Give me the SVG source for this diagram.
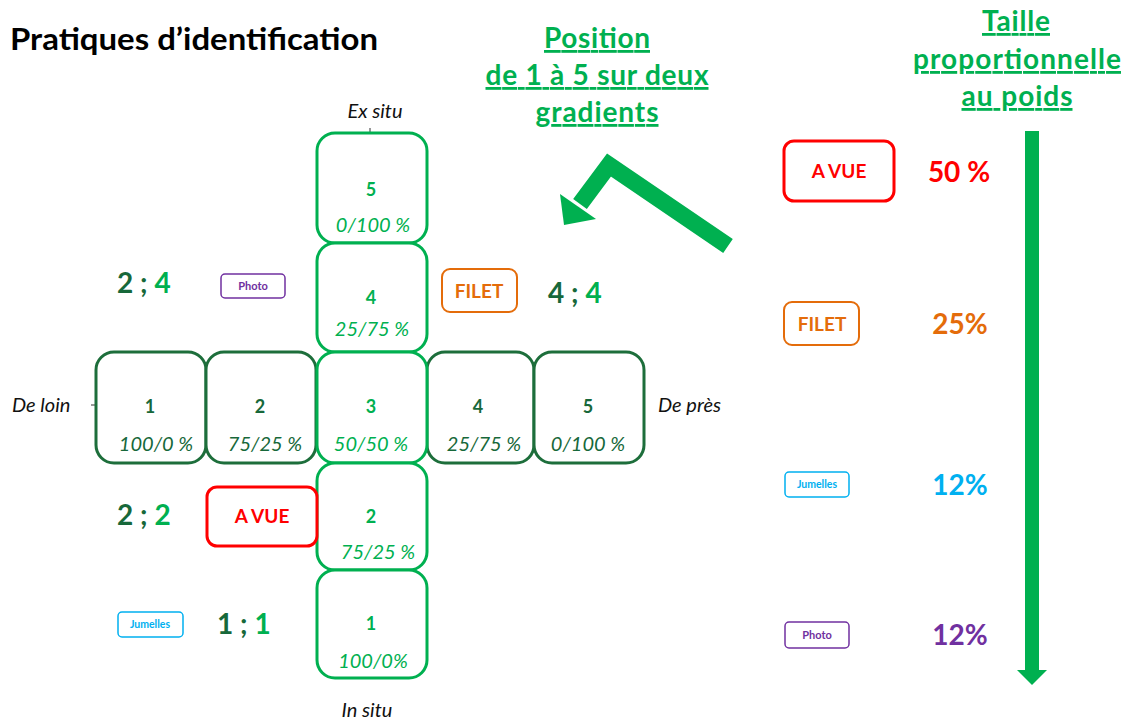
<svg xmlns="http://www.w3.org/2000/svg" width="1129" height="720" viewBox="0 0 1129 720">
<style>
text{font-family:Lato,"Open Sans","Liberation Sans",sans-serif}
.bl{fill:#fff;stroke:#00b050;stroke-width:3}
.bd{fill:#fff;stroke:#1d6e3b;stroke-width:3}
.num{font-weight:bold;font-size:18px;text-anchor:middle}
.pct{font-style:italic;font-size:20px;text-anchor:middle}
.gl{fill:#00b050}
.gd{fill:#17683a}
.axis{font-style:italic;font-size:20px;fill:#111}
.hd{font-weight:bold;font-size:28px;fill:#00b050;text-anchor:middle;text-decoration:underline}
.coord{font-weight:bold;font-size:28px}
.tag{font-weight:bold;text-anchor:middle}
.big{font-weight:bold;font-size:28px;text-anchor:middle}
</style>
<rect width="1129" height="720" fill="#fff"/>
<text x="10" y="50" font-size="30" font-weight="bold" fill="#000" textLength="368" lengthAdjust="spacingAndGlyphs">Pratiques d’identification</text>
<text class="hd" x="597" y="48" textLength="106" lengthAdjust="spacing">Position</text>
<text class="hd" x="597" y="85" textLength="223" lengthAdjust="spacing">de 1 à 5 sur deux</text>
<text class="hd" x="597" y="122" textLength="123" lengthAdjust="spacing">gradients</text>
<text class="hd" x="1016" y="31" textLength="68" lengthAdjust="spacing">Taille</text>
<text class="hd" x="1017" y="69" textLength="208" lengthAdjust="spacing">proportionnelle</text>
<text class="hd" x="1017" y="106" textLength="111" lengthAdjust="spacing">au poids</text>
<text class="axis" x="375" y="118" text-anchor="middle">Ex situ</text>
<text class="axis" x="367" y="717" text-anchor="middle">In situ</text>
<text class="axis" x="12" y="412">De loin</text>
<text class="axis" x="658" y="412">De près</text>
<g id="connectors">
<line x1="370" y1="128" x2="370" y2="133" stroke="#333" stroke-width="1"/>
<line x1="91" y1="405" x2="96" y2="405" stroke="#333" stroke-width="1"/>
<polyline points="728,246 609,165 580,204" fill="none" stroke="#00b050" stroke-width="17" stroke-linejoin="miter"/>
<polygon points="560,194 596,219 564,225" fill="#00b050"/>
<rect x="1025" y="131" width="14" height="540" fill="#00b050"/>
<polygon points="1017,670 1047,670 1032,685" fill="#00b050"/>
</g>
<g id="h1"><rect class="bd" x="96" y="352" width="110" height="111" rx="18"/><text class="num gd" x="150" y="413">1</text><text class="pct gd" x="156" y="451">100/0 %</text></g>
<g id="h2"><rect class="bd" x="206" y="352" width="110" height="111" rx="18"/><text class="num gd" x="260" y="413">2</text><text class="pct gd" x="265" y="451">75/25 %</text></g>
<g id="h4"><rect class="bd" x="427" y="352" width="107" height="111" rx="18"/><text class="num gd" x="478" y="413">4</text><text class="pct gd" x="484" y="451">25/75 %</text></g>
<g id="h5"><rect class="bd" x="534" y="352" width="110" height="111" rx="18"/><text class="num gd" x="588" y="413">5</text><text class="pct gd" x="588" y="451">0/100 %</text></g>
<g id="v5"><rect class="bl" x="317" y="133" width="110" height="110" rx="18"/><text class="num gl" x="371" y="196">5</text><text class="pct gl" x="373" y="232">0/100 %</text></g>
<g id="v4"><rect class="bl" x="317" y="243" width="110" height="109" rx="18"/><text class="num gl" x="371" y="304">4</text><text class="pct gl" x="372" y="336">25/75 %</text></g>
<g id="v3"><rect class="bl" x="317" y="352" width="110" height="111" rx="18"/><text class="num gl" x="371" y="413">3</text><text class="pct gl" x="371" y="451">50/50 %</text></g>
<g id="v2"><rect class="bl" x="317" y="463" width="110" height="107" rx="18"/><text class="num gl" x="371" y="523">2</text><text class="pct gl" x="378" y="559">75/25 %</text></g>
<g id="v1"><rect class="bl" x="317" y="570" width="110" height="108" rx="18"/><text class="num gl" x="371" y="630">1</text><text class="pct gl" x="373" y="668">100/0%</text></g>
<g id="c24"><text class="coord" x="117" y="293"><tspan class="gd">2 ; </tspan><tspan class="gl">4</tspan></text></g>
<g id="c44"><text class="coord" x="548" y="303"><tspan class="gd">4 ; </tspan><tspan class="gl">4</tspan></text></g>
<g id="c22"><text class="coord" x="117" y="525"><tspan class="gd">2 ; </tspan><tspan class="gl">2</tspan></text></g>
<g id="c11"><text class="coord" x="217" y="634"><tspan class="gd">1 ; </tspan><tspan class="gl">1</tspan></text></g>
<g id="photo-l"><rect x="221" y="274" width="64" height="24" rx="4" fill="#fff" stroke="#7030a0" stroke-width="1.5"/><text class="tag" x="253" y="290" font-size="11" fill="#7030a0">Photo</text></g>
<g id="filet-l"><rect x="442" y="269" width="75" height="43" rx="8" fill="#fff" stroke="#e46c0a" stroke-width="2"/><text class="tag" x="479" y="298" font-size="19" fill="#e46c0a">FILET</text></g>
<g id="avue-l"><rect x="207" y="487" width="110" height="59" rx="10" fill="#fff" stroke="#ff0000" stroke-width="3"/><text class="tag" x="262" y="523" font-size="19" fill="#ff0000">A VUE</text></g>
<g id="jum-l"><rect x="118" y="612" width="65" height="25" rx="4" fill="#fff" stroke="#00b0f0" stroke-width="1.5"/><text class="tag" x="150" y="628" font-size="10.5" fill="#00b0f0">Jumelles</text></g>
<g id="avue-r"><rect x="784" y="141" width="110" height="60" rx="10" fill="#fff" stroke="#ff0000" stroke-width="3"/><text class="tag" x="839" y="178" font-size="19" fill="#ff0000">A VUE</text><text class="big" x="959" y="182" fill="#ff0000">50 %</text></g>
<g id="filet-r"><rect x="784" y="302" width="75" height="43" rx="8" fill="#fff" stroke="#e46c0a" stroke-width="2"/><text class="tag" x="822" y="331" font-size="19" fill="#e46c0a">FILET</text><text class="big" x="960" y="334" fill="#e46c0a">25%</text></g>
<g id="jum-r"><rect x="785" y="472" width="64" height="25" rx="4" fill="#fff" stroke="#00b0f0" stroke-width="1.5"/><text class="tag" x="817" y="488" font-size="10.5" fill="#00b0f0">Jumelles</text><text class="big" x="960" y="495" fill="#00b0f0">12%</text></g>
<g id="photo-r"><rect x="785" y="622" width="64" height="26" rx="4" fill="#fff" stroke="#7030a0" stroke-width="1.5"/><text class="tag" x="817" y="639" font-size="11" fill="#7030a0">Photo</text><text class="big" x="960" y="645" fill="#7030a0">12%</text></g>
</svg>
